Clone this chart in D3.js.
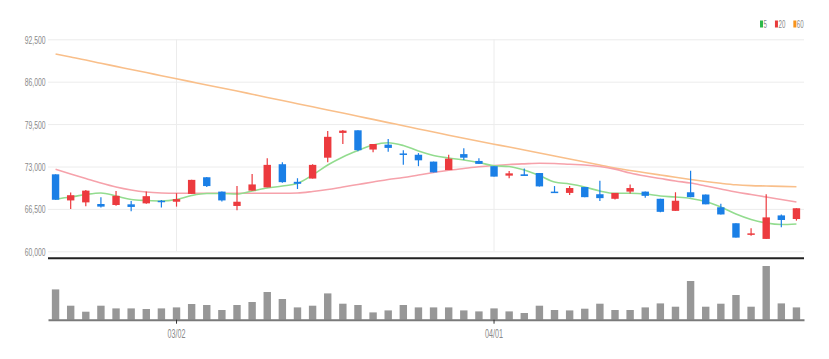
<!DOCTYPE html>
<html><head><meta charset="utf-8">
<script src="https://cdn.jsdelivr.net/npm/d3@7"></script>
<style>
html,body{margin:0;padding:0;background:#fff;}
svg{display:block;}
</style></head>
<body>
<svg id="chart" width="829" height="359"></svg>
<script>
const dates = ["02/17","02/18","02/21","02/22","02/23","02/24","02/25","02/28",
"03/02","03/03","03/04","03/07","03/08","03/10","03/11","03/14","03/15","03/16","03/17","03/18",
"03/21","03/22","03/23","03/24","03/25","03/28","03/29","03/30","03/31",
"04/01","04/04","04/05","04/06","04/07","04/08","04/11","04/12","04/13","04/14","04/15",
"04/18","04/19","04/20","04/21","04/22","04/25","04/26","04/27","04/28","04/29"];

const open  = [71800,67800,67500,67250,67100,67200,67350,67750,67600,68800,
71350,69150,66950,69300,69800,73350,70650,71150,74350,78150,
78550,75600,76350,75000,74800,73750,72450,74900,73850,73050,
71600,71800,72000,69150,68950,69850,68750,68050,69150,69150,
68050,66200,69050,68700,66750,64300,62650,61900,65500,64950];
const high  = [71800,69000,69400,68300,69250,67700,69150,67850,68900,70950,
71400,69150,70000,71850,74250,73650,71200,73350,78450,78600,
78550,76450,77200,75500,75050,73750,74800,75800,74250,73050,
72300,72700,72000,70000,70000,69850,70800,68950,70250,69150,
68050,69050,72350,68700,67300,64300,63550,68750,65650,66600];
const low   = [67900,66500,66900,66700,67000,66150,67300,66700,66850,68800,
69850,67650,66300,69300,69800,70500,69550,71150,73650,76450,
75350,75200,75250,73250,73050,72100,72450,74000,73400,71450,
71200,71550,69950,68950,68650,68300,67700,67950,68850,68200,
66000,66200,68300,67200,65650,62100,62400,61900,63700,64700];
const close = [67900,68600,69300,66850,68500,66800,68450,67550,68000,70950,
70000,67800,67600,70250,73250,70600,70350,73250,77550,78500,
75500,76450,75850,74850,73950,72100,74200,74350,73400,71450,
71950,71550,69950,68950,69700,68300,68150,68950,69700,68500,
66050,67750,68300,67200,65650,62100,62750,65200,64800,66600];

const ma5  = [68020,68320,68710,68940,68480,67940,67790,67710,67940,68550,
68860,68860,68780,69240,69700,70010,70425,71700,73230,74460,
75450,76300,76650,76220,75380,74690,74300,74000,73610,73120,
73000,72460,71620,70620,70320,69860,69240,68890,68890,68780,
68480,68320,68100,67630,66790,65720,64880,64340,64110,64190];
const ma20 = [72570,71850,71160,70470,69860,69400,69090,68940,68890,68890,
68890,68890,68890,68890,68890,68890,68940,69170,69470,69860,
70240,70620,71010,71310,71700,72080,72420,72690,72950,73150,
73310,73410,73490,73460,73340,73230,73000,72600,72000,71540,
71160,70780,70470,70010,69550,69090,68710,68320,67940,67560];
const ma60 = [90250,89790,89330,88820,88350,87870,87400,86920,86450,85970,
85490,85030,84570,84080,83590,83120,82630,82150,81660,81190,
80700,80220,79730,79255,78760,78290,77800,77320,76860,76420,
75990,75530,75070,74610,74150,73690,73230,72770,72390,72050,
71700,71345,71010,70700,70425,70195,70070,70010,69950,69900];

const volume = [3030,1400,800,1400,1130,1130,1070,1130,1230,1570,
1470,970,1470,1770,2770,2070,1230,1400,2630,1600,
1470,730,930,1470,1230,1230,1230,930,830,1130,
830,670,1400,970,930,1100,1600,970,970,1230,
1630,1300,3870,1300,1600,2470,1300,5370,1630,1230];

const priceTicks = [60000,66500,73000,79500,86000,92500];
const xTickLabels = ["03/02","04/01"];
const legendItems = [{label:"5",color:"#2cb84a"},{label:"20",color:"#e83a3a"},{label:"60",color:"#f7941d"}];

const UP = "#ec3a3e", DOWN = "#1a7fe6";
const svg = d3.select("#chart");
const L = 48, R = 804;
const x = d3.scaleBand().domain(dates).range([L, R]).padding(0);
const bw = x.bandwidth();
const cx = d => x(d) + bw / 2;
const y = d3.scaleLinear().domain([60000, 92500]).range([251.3, 39.3]);
const yv = d3.scaleLinear().domain([0, 5800]).range([319.7, 261.7]);
const condensed = 0.62;

// horizontal grid
svg.append("g").attr("transform", `translate(${L},0)`)
  .call(d3.axisLeft(y).tickValues(priceTicks).tickSize(-(R - L)).tickFormat(""))
  .call(g => g.select(".domain").remove())
  .call(g => g.selectAll("line").attr("stroke", "#ececec").attr("stroke-width", 1));

// vertical grid at labelled dates
svg.append("g").attr("transform", "translate(0,251.3)")
  .call(d3.axisBottom(x).tickValues(xTickLabels).tickSize(-212).tickFormat(""))
  .call(g => g.select(".domain").remove())
  .call(g => g.selectAll("line").attr("stroke", "#ececec").attr("stroke-width", 1));

// y labels
svg.append("g").attr("transform", `translate(${L},0)`)
  .call(d3.axisLeft(y).tickValues(priceTicks).tickSize(0).tickPadding(0).tickFormat(d3.format(",")))
  .call(g => g.select(".domain").remove())
  .call(g => g.selectAll("text")
    .attr("font-family", "Liberation Sans, Arial, sans-serif")
    .attr("font-size", 11).attr("fill", "#8a8a8a")
    .attr("x", -2.5 / condensed).attr("dy", "0.36em")
    .attr("transform", `scale(${condensed},1)`));

// bottom frame line of price panel
svg.append("line").attr("x1", L).attr("x2", R).attr("y1", 258.3).attr("y2", 258.3)
  .attr("stroke", "#222").attr("stroke-width", 2);

// moving averages
const line = arr => d3.line().x((d, i) => cx(dates[i])).y(d => y(d)).curve(d3.curveMonotoneX)(arr);
svg.append("path").attr("d", line(ma60)).attr("fill", "none").attr("stroke", "#f9bf8a").attr("stroke-width", 1.6);
svg.append("path").attr("d", line(ma20)).attr("fill", "none").attr("stroke", "#f6a2ab").attr("stroke-width", 1.6);
svg.append("path").attr("d", line(ma5)).attr("fill", "none").attr("stroke", "#93dc8f").attr("stroke-width", 1.6);

// candles
const cw = 7.4;
const candles = svg.append("g").selectAll("g").data(dates).join("g");
candles.append("line")
  .attr("x1", d => cx(d)).attr("x2", d => cx(d))
  .attr("y1", (d, i) => y(high[i])).attr("y2", (d, i) => y(low[i]))
  .attr("stroke", (d, i) => close[i] >= open[i] ? UP : DOWN).attr("stroke-width", 1.2);
candles.append("rect")
  .attr("x", d => cx(d) - cw / 2).attr("width", cw)
  .attr("y", (d, i) => y(Math.max(open[i], close[i])))
  .attr("height", (d, i) => Math.max(1.5, Math.abs(y(open[i]) - y(close[i]))))
  .attr("fill", (d, i) => close[i] >= open[i] ? UP : DOWN);

// volume bars
svg.append("g").selectAll("rect").data(dates).join("rect")
  .attr("x", d => cx(d) - cw / 2).attr("width", cw)
  .attr("y", (d, i) => yv(volume[i])).attr("height", (d, i) => yv(0) - yv(volume[i]))
  .attr("fill", "#979797");

// x axis at volume baseline
svg.append("g").attr("transform", `translate(0,${yv(0)})`)
  .call(d3.axisBottom(x).tickValues(xTickLabels).tickSize(4).tickSizeOuter(0).tickPadding(6))
  .call(g => g.select(".domain").attr("stroke", "#7a7a7a").attr("stroke-width", 2))
  .call(g => g.selectAll(".tick line").attr("stroke", "#333"))
  .call(g => g.selectAll("text")
    .attr("font-family", "Liberation Sans, Arial, sans-serif")
    .attr("font-size", 12).attr("fill", "#8a8a8a")
    .attr("transform", `scale(0.6,1)`)
    .attr("x", function() { return 0; }));
// fix x positions of scaled labels (scale applies around tick origin)
svg.selectAll(".tick text").filter(function(){ return this.getAttribute("transform") === "scale(0.6,1)"; });

// legend
const lg = svg.append("g").attr("transform", "translate(760,24)");
let lx = 0;
legendItems.forEach(it => {
  lg.append("rect").attr("x", lx).attr("y", -3.5).attr("width", 3).attr("height", 7).attr("fill", it.color);
  const t = lg.append("text").attr("transform", `translate(${lx + 3.5},3.5) scale(0.62,1)`)
    .attr("font-family", "Liberation Sans, Arial, sans-serif").attr("font-size", 10).attr("fill", "#8a8a8a")
    .text(it.label);
  lx += 3.5 + it.label.length * 5.56 * 0.62 + 8;
});
</script>
</body></html>
